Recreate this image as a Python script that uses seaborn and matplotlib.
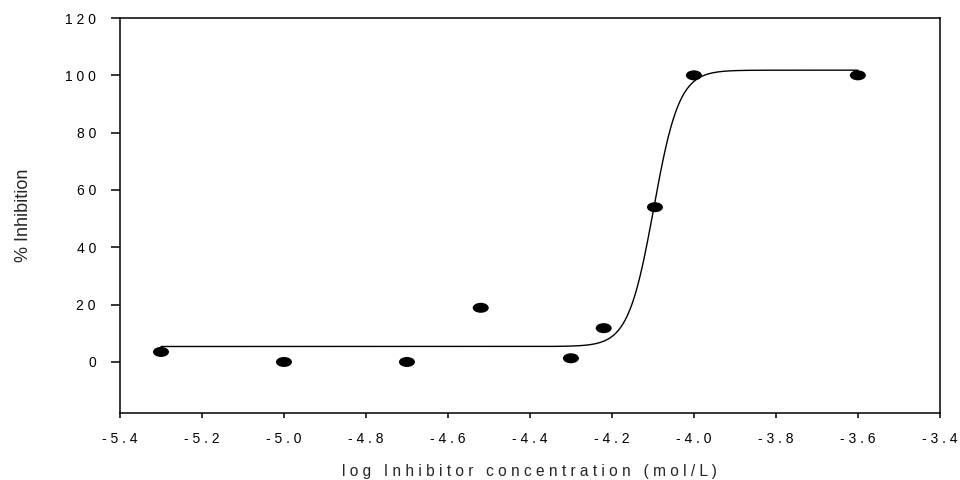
import numpy as np
import pandas as pd
import matplotlib
matplotlib.use("Agg")
import matplotlib.pyplot as plt
import seaborn as sns
from matplotlib.markers import MarkerStyle
from matplotlib.transforms import Affine2D

# Data
log_conc = [-5.3, -5.0, -4.7, -4.52, -4.3, -4.22, -4.095, -4.0, -3.6]
inhibition = [3.5, 0.0, 0.0, 18.9, 1.3, 11.8, 54.0, 100.0, 100.0]

# Fitted four-parameter logistic
fit_bottom = 5.4
fit_top = 101.8
fit_log_ec50 = -4.098
fit_hill = 14.0
fit_x_start = -5.3
fit_x_end = -3.6

xticks = [-5.4, -5.2, -5.0, -4.8, -4.6, -4.4, -4.2, -4.0, -3.8, -3.6, -3.4]
xtick_labels = ["-5.4", "-5.2", "-5.0", "-4.8", "-4.6", "-4.4", "-4.2", "-4.0", "-3.8", "-3.6", "-3.4"]
yticks = [0, 20, 40, 60, 80, 100, 120]
ytick_labels = ["0", "20", "40", "60", "80", "100", "120"]
xlabel = "log Inhibitor concentration (mol/L)"
ylabel = "% Inhibition"


def spaced(s):
    return " ".join(s)


sns.set_theme(style="ticks")
plt.rcParams["font.family"] = ["Liberation Sans", "DejaVu Sans"]

fig = plt.figure(figsize=(9.6, 4.8), dpi=100)
ax = fig.add_axes([0.125, 0.1396, 0.854, 0.8229])

curve_x = np.linspace(fit_x_start, fit_x_end, 600)
curve_y = fit_bottom + (fit_top - fit_bottom) / (1 + 10 ** ((fit_log_ec50 - curve_x) * fit_hill))
curve = pd.DataFrame({"x": curve_x, "y": curve_y})
pts = pd.DataFrame({"x": log_conc, "y": inhibition})

sns.lineplot(data=curve, x="x", y="y", ax=ax, color="black", linewidth=1.0, sort=False)

ell = MarkerStyle("o", transform=Affine2D().scale(1.6, 1.0))
sns.scatterplot(data=pts, x="x", y="y", ax=ax, marker=ell, s=52, color="black",
                edgecolor="none", linewidth=0, zorder=3)

ax.set_xlim(-5.4, -3.4)
ax.set_ylim(-17.8, 120)
ax.set_xticks(xticks)
ax.set_xticklabels([spaced(t) for t in xtick_labels], fontsize=10)
ax.set_yticks(yticks)
ax.set_yticklabels([spaced(t) for t in ytick_labels], fontsize=10)

ax.set_xlabel(spaced(xlabel), fontsize=11.2, labelpad=13)
ax.set_ylabel(ylabel, fontsize=13, labelpad=24)

for sp in ax.spines.values():
    sp.set_visible(True)
    sp.set_linewidth(1.1)
    sp.set_color("black")

ax.tick_params(axis="x", direction="out", length=3.6, width=1.1, pad=10, colors="black")
ax.tick_params(axis="y", direction="out", length=6.3, width=1.1, pad=11, colors="black")
ax.grid(False)

fig.savefig("out.png", dpi=100, facecolor="white")
